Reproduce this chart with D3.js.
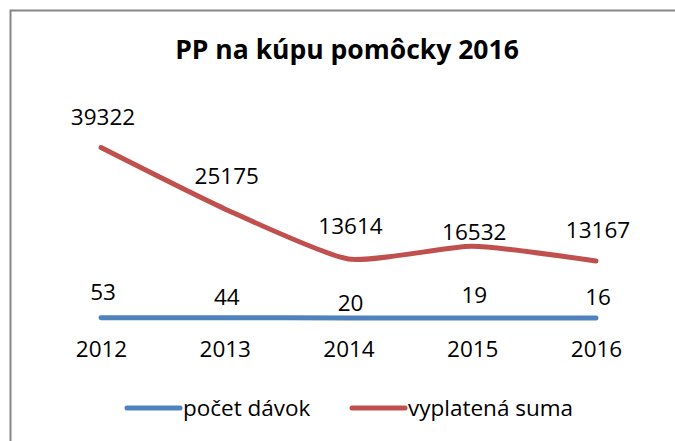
<!DOCTYPE html>
<html><head><meta charset="utf-8">
<script src="https://cdnjs.cloudflare.com/ajax/libs/d3/7.8.5/d3.min.js"></script>
<style>
html,body{margin:0;padding:0;background:#fff;}
svg{display:block;font-family:"Open Sans","Noto Sans",sans-serif;}
</style></head>
<body><svg id="c" width="675" height="441"></svg>
<script>
const years = ["2012","2013","2014","2015","2016"];
const countValues = [53,44,20,19,16];
const sumValues = [39322,25175,13614,16532,13167];
const seriesNames = ["počet dávok","vyplatená suma"];
const title = "PP na kúpu pomôcky 2016";
// label offsets above points (layout)
const sumLabelDy = [-30,-33,-33,-14,-31];
const countLabelDy = [-26,-21,-15,-23,-21];

const svg = d3.select("#c");
const blue = "#4F81BD", red = "#C0504D";
const FS = 22.5;

svg.append("rect").attr("x",10.5).attr("y",10.5).attr("width",700).attr("height",500)
  .attr("fill","#fff").attr("stroke","#868686").attr("stroke-width",2);

const x = d3.scalePoint().domain(years).range([101,596]);
const y = d3.scaleLinear().domain([0,45000]).range([318,123]);

svg.append("text").attr("x",347).attr("y",59).attr("text-anchor","middle")
  .attr("font-size",26.5).attr("font-weight","bold").attr("fill","#000").text(title);

const line = d3.line().x((d,i)=>x(years[i])).y(d=>y(d)).curve(d3.curveCardinal.tension(0.45));

svg.append("path").datum(countValues).attr("d",line).attr("fill","none")
  .attr("stroke",blue).attr("stroke-width",5).attr("stroke-linecap","round").attr("stroke-linejoin","round");
svg.append("path").datum(sumValues).attr("d",line).attr("fill","none")
  .attr("stroke",red).attr("stroke-width",5).attr("stroke-linecap","round").attr("stroke-linejoin","round");

svg.selectAll("text.sl").data(sumValues).enter().append("text").attr("class","sl")
  .attr("x",(d,i)=>x(years[i])+2).attr("y",(d,i)=>y(d)+sumLabelDy[i]).attr("dy","0.35em")
  .attr("text-anchor","middle").attr("font-size",FS).attr("fill","#000").text(d=>d);
svg.selectAll("text.cl").data(countValues).enter().append("text").attr("class","cl")
  .attr("x",(d,i)=>x(years[i])+2).attr("y",(d,i)=>y(d)+countLabelDy[i]).attr("dy","0.35em")
  .attr("text-anchor","middle").attr("font-size",FS).attr("fill","#000").text(d=>d);

const xAxis = svg.append("g").attr("transform","translate(0,337)")
  .call(d3.axisBottom(x).tickSize(0).tickPadding(4));
xAxis.select(".domain").remove();
xAxis.selectAll("text").attr("font-size",FS).attr("fill","#000")
  .attr("font-family",'"Open Sans","Noto Sans",sans-serif');

const legend = [{name:seriesNames[0],color:blue,x:127},{name:seriesNames[1],color:red,x:352}];
const lg = svg.selectAll("g.lg").data(legend).enter().append("g").attr("class","lg")
  .attr("transform",d=>`translate(${d.x},408)`);
lg.append("line").attr("x1",0).attr("x2",53).attr("stroke",d=>d.color)
  .attr("stroke-width",5).attr("stroke-linecap","round");
lg.append("text").attr("x",56).attr("dy","0.35em").attr("font-size",FS).attr("fill","#000").text(d=>d.name);
</script></body></html>
